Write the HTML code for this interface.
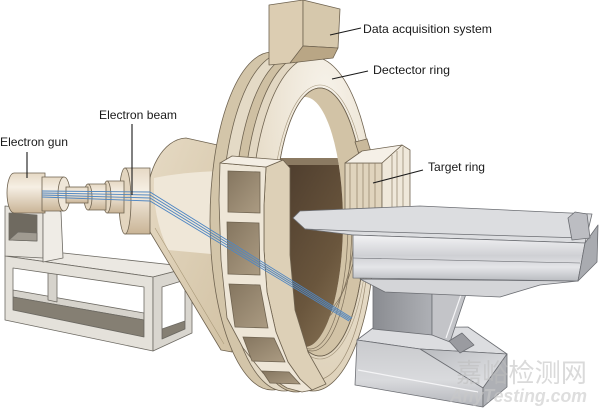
<!DOCTYPE html>
<html><head><meta charset="utf-8"><style>
html,body{margin:0;padding:0;background:#fff;}
svg{display:block;}
text{font-family:"Liberation Sans",Arial,sans-serif;}
</style></head><body>
<svg width="600" height="412" viewBox="0 0 600 412" xmlns="http://www.w3.org/2000/svg">
<defs>
<linearGradient id="gCyl" x1="0" y1="0" x2="0" y2="1">
<stop offset="0" stop-color="#e6d9c5"/><stop offset="0.35" stop-color="#f6efe4"/><stop offset="1" stop-color="#c9b496"/>
</linearGradient>
<linearGradient id="gCone" x1="0" y1="0" x2="1" y2="1">
<stop offset="0" stop-color="#e6dac4"/><stop offset="1" stop-color="#d2c2a4"/>
</linearGradient>
<radialGradient id="gFront" cx="0.6" cy="0.15" r="0.9">
<stop offset="0" stop-color="#f7f3eb"/><stop offset="0.5" stop-color="#ebe2d1"/><stop offset="1" stop-color="#dccfb6"/>
</radialGradient>
<linearGradient id="gDark" x1="0" y1="0" x2="1" y2="1">
<stop offset="0" stop-color="#47372a"/><stop offset="0.55" stop-color="#6a563d"/><stop offset="1" stop-color="#9c8766"/>
</linearGradient>
<linearGradient id="gWin" x1="0" y1="0" x2="1" y2="1">
<stop offset="0" stop-color="#857660"/><stop offset="1" stop-color="#ab9b82"/>
</linearGradient>
<linearGradient id="gSteel" x1="0" y1="0" x2="0" y2="1">
<stop offset="0" stop-color="#f3f3f5"/><stop offset="0.45" stop-color="#cfd0d4"/><stop offset="0.7" stop-color="#e4e5e8"/><stop offset="1" stop-color="#b9bbc0"/>
</linearGradient>
<linearGradient id="gCol" x1="0" y1="0" x2="1" y2="0">
<stop offset="0" stop-color="#8a8c91"/><stop offset="1" stop-color="#aeb0b5"/>
</linearGradient>
<linearGradient id="gBase" x1="0" y1="0" x2="0" y2="1">
<stop offset="0" stop-color="#c9cacd"/><stop offset="0.6" stop-color="#d9dadd"/><stop offset="1" stop-color="#b3b5ba"/>
</linearGradient>
<linearGradient id="gBevel" x1="0" y1="0" x2="1" y2="1">
<stop offset="0" stop-color="#b9bbbf"/><stop offset="1" stop-color="#e6e7ea"/>
</linearGradient>
<clipPath id="cHole"><ellipse cx="320" cy="222" rx="45" ry="134"/></clipPath>
<clipPath id="cOpen"><ellipse cx="305" cy="222" rx="38" ry="125"/></clipPath>
</defs>
<rect width="600" height="412" fill="#fff"/>

<!-- stand -->
<g stroke="#6d6a63" stroke-width="0.8" stroke-linejoin="round">
<polygon points="5,256 45,251 192,267 153,277" fill="#ebe8e2"/>
<polygon points="13,290 144,313 144,320 13,297" fill="#d6d3cc"/>
<polygon points="13,297 144,320 144,337 13,310" fill="#857f73"/>
<polygon points="48,272 57,273 57,302 48,300" fill="#d6d3cc"/>
<path d="M5,256 L153,277 L153,351 L5,320 Z M13,268 L144,287 L144,337 L13,310 Z" fill="#e4e1da" fill-rule="evenodd"/>
<polygon points="162,329 185,321 185,329 162,339" fill="#857f73"/>
<path d="M153,277 L192,267 L192,333 L153,351 Z M162,287 L185,280 L185,329 L162,339 Z" fill="#d9d6cf" fill-rule="evenodd"/>
<polygon points="5,206 43,209 43,258 5,256" fill="#e6e3dc"/>
<polygon points="9,213 37,215 37,241 9,240" fill="#6f6a60"/>
<polygon points="18,232 37,233 37,241 9,240" fill="#a09b91"/>
<path d="M43,209 Q52,204 61,212 L63,258 L43,262 Z" fill="#efece6"/>
</g>

<!-- cone -->
<g stroke="#6f6350" stroke-width="0.8" stroke-linejoin="round">
<path d="M147,205 C146,170 163,139 186,138 L222,146 L232,352 L221,350 L150,232 C148,225 147,215 147,205 Z" fill="url(#gCone)"/>
<path d="M154,178 Q183,172 220,171 L222,255 L168,250 Q152,215 154,178 Z" fill="#efe7d8" stroke="none"/>
<path d="M155,228 L224,344" fill="none" stroke="#a89878" stroke-width="0.6"/>
</g>

<!-- cylinders -->
<g stroke="#6f6350" stroke-width="0.8">
<path d="M125,168 L150,168 L150,234 L125,234 Z" fill="url(#gCyl)"/>
<ellipse cx="125" cy="201" rx="6" ry="33" fill="#e3d5bf"/>
<path d="M107,181 L124,181 L124,213 L107,213 Z" fill="url(#gCyl)"/>
<ellipse cx="107" cy="197" rx="4" ry="16" fill="#e3d5bf"/>
<path d="M88,184 L106,184 L106,210 L88,210 Z" fill="url(#gCyl)"/>
<ellipse cx="88" cy="197" rx="4" ry="13" fill="#e3d5bf"/>
<path d="M14,173 L45,173 L45,213 L14,213 A7,20 0 0 1 14,173 Z" fill="url(#gCyl)"/>
<path d="M42,177 L64,177 L64,211 L42,211 Z" fill="url(#gCyl)"/>
<ellipse cx="64" cy="194" rx="6" ry="17" fill="#efe6d8"/>
<rect x="66" y="187" width="22" height="16" fill="url(#gCyl)"/>
</g>

<!-- ring body -->
<g stroke="#6f6350" stroke-width="0.8">
<ellipse cx="272" cy="221" rx="62" ry="169" fill="#d3c5a9"/>
<ellipse cx="284" cy="222" rx="62" ry="169" fill="#e4dac6"/>
<ellipse cx="296" cy="223" rx="62" ry="169" fill="#cfc0a3"/>
<ellipse cx="305" cy="223" rx="62" ry="168" fill="#e2d7c2"/>
<ellipse cx="313" cy="224" rx="62" ry="167" fill="url(#gFront)"/>
<path d="M369,230 A53,150 0 0 1 263,230" fill="none" stroke="#9a8a70" stroke-width="0.7"/>
<path d="M364,232 A47,140 0 0 1 272,236" fill="none" stroke="#a89a80" stroke-width="0.6"/>
<ellipse cx="320" cy="222" rx="48" ry="137" fill="none" stroke="#a89a80" stroke-width="0.6"/>
<ellipse cx="320" cy="222" rx="45" ry="134" fill="#d2c3a6"/>
</g>
<g clip-path="url(#cHole)" fill="none" stroke="#7d6f5a" stroke-width="0.7">
<path d="M348,222 A38,127 0 0 1 272,222"/>
<path d="M352,222 A40,129 0 0 1 272,222"/>
<path d="M356,222 A42,131 0 0 1 274,222"/>
<path d="M360,222 A44,132.5 0 0 1 276,222"/>
</g>
<g clip-path="url(#cHole)">
<g clip-path="url(#cOpen)">
<rect x="260" y="85" width="110" height="280" fill="#ffffff"/>
<rect x="260" y="158" width="110" height="8" fill="#8b7a62"/>
<rect x="260" y="165" width="110" height="200" fill="url(#gDark)"/>
</g>
</g>
<ellipse cx="320" cy="222" rx="45" ry="134" fill="none" stroke="#6f6350" stroke-width="0.8"/>
<polygon points="355,142 367,139 371,152 360,157" fill="#c9b99b" stroke="#6f6350" stroke-width="0.8"/>

<!-- data acquisition box -->
<g stroke="#6f6350" stroke-width="0.8" stroke-linejoin="round">
<polygon points="269,5 303,0 303,47 290,63 269,65" fill="#dccdb2"/>
<polygon points="303,0 340,9 338,48 303,46" fill="#d6c8ac"/>
<polygon points="303,46 338,48 333,58 290,63" fill="#b9a685"/>
</g>

<!-- windowed panel -->
<g stroke="#6f6350" stroke-width="0.8" stroke-linejoin="round">
<polygon points="266,167 283,160 290,168 290,255 295,310 308,352 326,384 312,390 300,379 288,362 276,332 267,292 264,250 264,205" fill="#ddd0b7"/>
<polygon points="220,163 219,200 221,260 227,318 243,348 263,373 287,388 302,392 312,390 300,379 288,362 276,332 267,292 264,250 264,205 266,167" fill="#eee6d7"/>
<polygon points="220,163 232,156 283,160 266,167" fill="#f4eee4"/>
</g>
<g fill="url(#gWin)" stroke="#6f6350" stroke-width="0.8">
<polygon points="228,171 260,172 260,213 228,212"/>
<polygon points="227,222 259,223 260,275 228,274"/>
<polygon points="229,284 260,285 268,328 235,327"/>
<polygon points="243,337 274,338 285,362 252,361"/>
<polygon points="262,371 289,372 300,384 270,383"/>
</g>

<!-- target ring -->
<g stroke="#6f6350" stroke-width="0.8" stroke-linejoin="round">
<polygon points="345,163 382,163 382,213 345,213" fill="#e0d4bd"/>
<polygon points="382,163 402,145 410,150 410,212 382,213" fill="#efe8da"/>
<polygon points="345,163 362,151 402,145 382,163" fill="#f5f0e7"/>
<g stroke="#8e7f66" stroke-width="0.7">
<line x1="350" y1="163" x2="350" y2="213"/><line x1="357" y1="163" x2="357" y2="213"/>
<line x1="363" y1="163" x2="363" y2="213"/><line x1="369" y1="163" x2="369" y2="213"/>
<line x1="375" y1="163" x2="375" y2="213"/>
<line x1="392" y1="155" x2="392" y2="213"/><line x1="397" y1="151" x2="397" y2="213"/>
<line x1="403" y1="147" x2="403" y2="213"/>
</g>
</g>

<!-- beam -->
<g fill="none" stroke="#4f86c2" stroke-width="0.9">
<polyline points="42,191 150,192 352,318"/>
<polyline points="42,193 150,195 351,319"/>
<polyline points="42,195 150,198 350,320"/>
<polyline points="42,197 150,201 349,321"/>
</g>

<!-- table -->
<g stroke="#6c6e73" stroke-width="0.8" stroke-linejoin="round">
<!-- base -->
<polygon points="357,340 373,328 468,327 507,354 420,349" fill="#dcdde0"/>
<polygon points="420,349 507,354 483,388" fill="url(#gBevel)"/>
<polygon points="357,340 420,349 483,388 483,407 355,385" fill="url(#gBase)"/>
<polygon points="483,388 507,354 507,387 483,407" fill="#aeb0b5"/>
<line x1="358" y1="370" x2="478" y2="392" stroke="#f4f4f6" stroke-width="1.2"/>
<!-- column -->
<polygon points="373,280 432,283 432,335 373,329" fill="url(#gCol)"/>
<polygon points="432,283 468,288 450,342 432,335" fill="#c3c4c8"/>
<line x1="462" y1="292" x2="446" y2="338" stroke="#f4f4f6" stroke-width="1.2"/>
<polygon points="449,341 462,333 474,345 460,353" fill="#9a9ba0"/>
<!-- block -->
<polygon points="360,279 578,281 540,285 500,297 385,292" fill="#d4d5d8"/>
<polygon points="293,218 300,211 420,206 592,214 585,243 353,235 305,229" fill="#dcdde0"/>
<line x1="305" y1="229" x2="353" y2="231"/>
<line x1="353" y1="231" x2="583" y2="238"/>
<polygon points="353,235 585,243 578,281 353,278" fill="url(#gSteel)"/>
<line x1="353" y1="258" x2="580" y2="263" stroke-width="0.6"/>
<polygon points="585,243 598,225 597,262 578,281" fill="#a9abb0"/>
<polygon points="568,218 575,212 587,214 590,238 572,240" fill="#bcbdc2"/>
</g>

<!-- leaders -->
<g stroke="#1a1a1a" stroke-width="1.1">
<line x1="330" y1="35" x2="361" y2="28"/>
<line x1="332" y1="79" x2="368" y2="71"/>
<line x1="373" y1="183" x2="423" y2="170"/>
<line x1="132" y1="124" x2="132" y2="195"/>
<line x1="27" y1="152" x2="27" y2="178"/>
</g>

<!-- labels -->
<g fill="#1a1a1a" font-size="12">
<text x="363" y="33" textLength="129" lengthAdjust="spacingAndGlyphs">Data acquisition system</text>
<text x="373" y="74" textLength="77" lengthAdjust="spacingAndGlyphs">Dectector ring</text>
<text x="428" y="171" textLength="57" lengthAdjust="spacingAndGlyphs">Target ring</text>
<text x="99" y="119" textLength="78" lengthAdjust="spacingAndGlyphs">Electron beam</text>
<text x="0" y="146" textLength="68" lengthAdjust="spacingAndGlyphs">Electron gun</text>
</g>

<!-- watermark -->
<text x="456" y="382" font-size="26" fill="#bdbdbd" opacity="0.55" style="font-family:'Liberation Sans','Noto Sans CJK SC',sans-serif" textLength="131" lengthAdjust="spacingAndGlyphs">嘉峪检测网</text>
<text x="450" y="402" font-size="18" font-style="italic" font-weight="bold" fill="#c9c9c9" opacity="0.6" textLength="137" lengthAdjust="spacingAndGlyphs">AnyTesting.com</text>
</svg>
</body></html>
